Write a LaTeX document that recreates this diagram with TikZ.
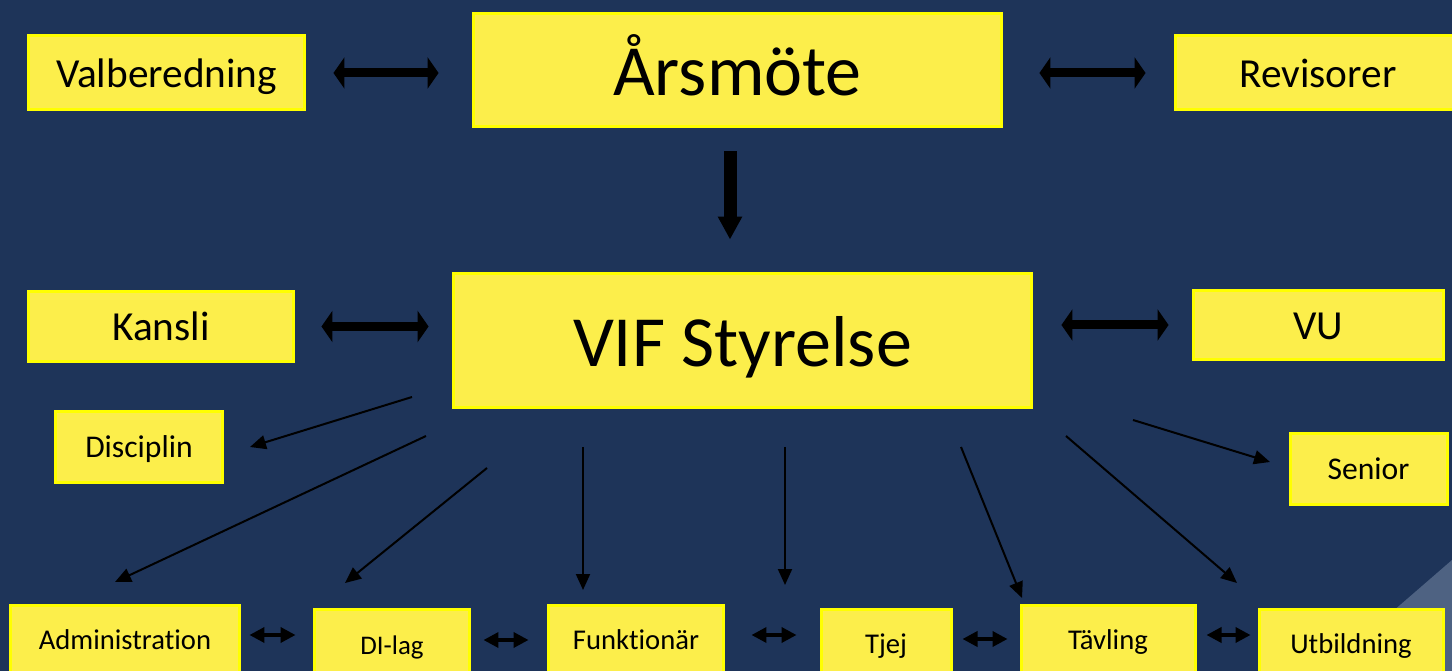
\documentclass[tikz,border=0pt]{standalone}
\usepackage{fontspec}
\setmainfont{Carlito}[Ligatures=NoCommon]
\usetikzlibrary{arrows.meta,calc}

\definecolor{bakgrund}{RGB}{30,52,89}
\definecolor{lapp}{RGB}{252,238,75}
\definecolor{kant}{RGB}{255,255,0}
\definecolor{glans}{RGB}{78,98,130}

\tikzset{
  ruta/.style={draw=kant, fill=lapp, line width=0.06cm, inner sep=0pt, text=black, text depth=0pt},
  stor/.style={ruta, font=\fontsize{41}{49}\selectfont, text height=29.5pt},
  mellan/.style={ruta, font=\fontsize{23.5}{28}\selectfont, text height=16pt},
  liten/.style={ruta, font=\fontsize{18}{22}\selectfont, text height=12.2pt},
  minst/.style={ruta, font=\fontsize{16.3}{20}\selectfont, text height=11.1pt},
  tjockpil/.style={line width=0.18cm, {Triangle[length=0.22cm,width=0.62cm]}-{Triangle[length=0.22cm,width=0.62cm]}},
  nedpil/.style={line width=0.26cm, -{Triangle[length=0.46cm,width=0.46cm]}},
  smalpil/.style={line width=0.07cm, {Triangle[length=0.3cm,width=0.3cm]}-{Triangle[length=0.3cm,width=0.3cm]}},
  tunnpil/.style={line width=0.04cm, -{Triangle[length=0.32cm,width=0.28cm]}}
}

\begin{document}
\begin{tikzpicture}[x=0.02cm,y=-0.02cm]
%\draw[step=50,gray,very thin] (0,0) grid (1452,671);
\fill[bakgrund] (0,0) rectangle (1452,671);
\useasboundingbox (0,0) rectangle (1452,671);
\fill[glans] (1392,612) -- (1452,560) -- (1452,671) -- (1392,671) -- cycle;

% top row
\node[mellan, minimum width=5.54cm, minimum height=1.48cm] (valb) at (166.5,73) {Valberedning};
\node[stor, minimum width=10.58cm, minimum height=2.28cm] (ars) at (737.5,70) {Årsmöte};
\node[mellan, minimum width=5.72cm, minimum height=1.48cm] (rev) at (1318,73) {Revisorer};

% middle row
\node[mellan, minimum width=5.32cm, minimum height=1.42cm] (kansli) at (161,326.5) {Kansli};
\node[stor, minimum width=11.58cm, minimum height=2.70cm] (vif) at (742.5,340.5) {VIF Styrelse};
\node[mellan, minimum width=5.0cm, minimum height=1.40cm] (vu) at (1318,325) {VU};

\node[liten, minimum width=3.36cm, minimum height=1.44cm] (disc) at (139,447) {Disciplin};
\node[liten, minimum width=3.14cm, minimum height=1.44cm] (senior) at (1368.5,469) {Senior};

% bottom row
\node[minst, minimum width=4.6cm, minimum height=1.4cm] (admin) at (125,640) {Administration};
\node[minst, font=\fontsize{15.3}{19}\selectfont, minimum width=3.12cm, minimum height=1.44cm] (dilag) at (392,645) {DI-lag};
\node[minst, minimum width=3.52cm, minimum height=1.4cm] (funk) at (636,640) {Funktionär};
\node[minst, minimum width=2.6cm, minimum height=1.4cm] (tjej) at (886,644) {Tjej};
\node[minst, minimum width=3.48cm, minimum height=1.4cm] (tav) at (1108,640) {Tävling};
\node[minst, minimum width=3.68cm, minimum height=1.4cm] (utb) at (1351,644) {Utbildning};

% thick arrows
\draw[tjockpil, shorten <=0.54cm, shorten >=0.66cm] (valb.east) -- (valb.east -| ars.west);
\draw[tjockpil, shorten <=0.72cm, shorten >=0.56cm] (rev.west -| ars.east) -- (rev.west);
\draw[tjockpil, shorten <=0.52cm, shorten >=0.46cm] (kansli.east) -- (kansli.east -| vif.west);
\draw[tjockpil, shorten <=0.56cm, shorten >=0.46cm] (vu.west -| vif.east) -- (vu.west);
\draw[nedpil, shorten <=0.46cm, shorten >=0.64cm] ($(ars.south)+(-7.5,0)$) -- ($(ars.south |- vif.north)+(-7.5,0)$);

% small arrows between bottom boxes
\foreach \l/\r/\s/\t in {admin/dilag/8/17, dilag/funk/12/18, funk/tjej/26/23, tjej/tav/10/12, tav/utb/10/7}
  \draw[smalpil, shorten <=\s*0.02cm, shorten >=\t*0.02cm] ($(\l.east)+(0,-5)$) -- ($(\l.east -| \r.west)+(0,-5)$);

% thin arrows from VIF Styrelse
\coordinate (s-disc) at (412,397);   \coordinate (e-disc) at (250,447);
\coordinate (s-admin) at (426,436);  \coordinate (e-admin) at (115,582);
\coordinate (s-dilag) at (487,468);  \coordinate (e-dilag) at (345,583);
\coordinate (s-funk) at (583,447);   \coordinate (e-funk) at (583,590);
\coordinate (s-tjej) at (785,447);   \coordinate (e-tjej) at (785,585);
\coordinate (s-tav) at (961,447);    \coordinate (e-tav) at (1022,598);
\coordinate (s-utb) at (1066,436);   \coordinate (e-utb) at (1237,583);
\coordinate (s-senior) at (1133,420); \coordinate (e-senior) at (1270,462);
\foreach \n in {disc,admin,dilag,funk,tjej,tav,utb,senior}
  \draw[tunnpil] (s-\n) -- (e-\n);

\end{tikzpicture}
\end{document}
